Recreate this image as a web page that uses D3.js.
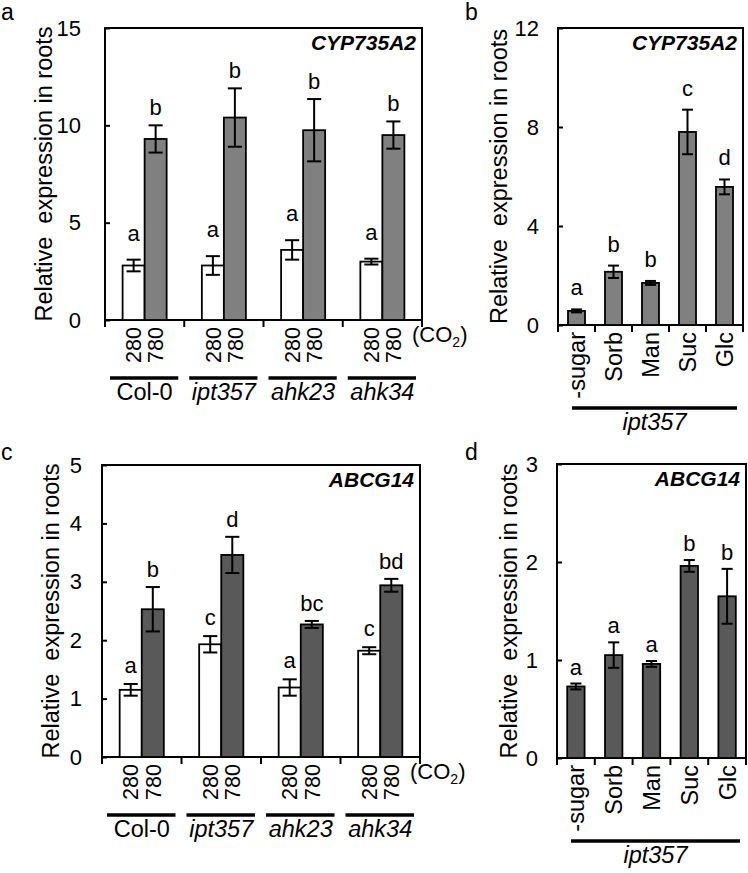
<!DOCTYPE html>
<meta charset="utf-8" />
<style>
  body { margin: 0; background: #fff; }
  svg text { font-family: "Liberation Sans", Arial, Helvetica, sans-serif; fill: #000; }
</style>
<svg width="748" height="873"></svg>
<script src="https://d3js.org/d3.v7.min.js"></script>
<script>
  // ---- data ----
  var genotypes = ['Col-0', 'ipt357', 'ahk23', 'ahk34'];
  var co2Levels = ['280', '780'];
  var sugars = ['-sugar', 'Sorb', 'Man', 'Suc', 'Glc'];

  // a: CYP735A2, CO2 treatments
  var cypCo2Mean = [[2.8, 9.3], [2.8, 10.4], [3.6, 9.75], [3.0, 9.5]];
  var cypCo2Err = [[0.3, 0.7], [0.48, 1.5], [0.5, 1.6], [0.15, 0.7]];
  var cypCo2Letters = [['a', 'b'], ['a', 'b'], ['a', 'b'], ['a', 'b']];
  var cypCo2Ticks = [0, 5, 10, 15];

  // b: CYP735A2, sugars
  var cypSugarMean = [0.57, 2.15, 1.7, 7.8, 5.58];
  var cypSugarErr = [0.06, 0.25, 0.08, 0.9, 0.3];
  var cypSugarLetters = ['a', 'b', 'b', 'c', 'd'];
  var cypSugarTicks = [0, 4, 8, 12];

  // c: ABCG14, CO2 treatments
  var abcCo2Mean = [[1.15, 2.53], [1.93, 3.46], [1.19, 2.27], [1.82, 2.94]];
  var abcCo2Err = [[0.1, 0.38], [0.14, 0.31], [0.14, 0.06], [0.06, 0.11]];
  var abcCo2Letters = [['a', 'b'], ['c', 'd'], ['a', 'bc'], ['c', 'bd']];
  var abcCo2Ticks = [0, 1, 2, 3, 4, 5];

  // d: ABCG14, sugars
  var abcSugarMean = [0.73, 1.05, 0.96, 1.96, 1.65];
  var abcSugarErr = [0.03, 0.13, 0.03, 0.06, 0.28];
  var abcSugarLetters = ['a', 'a', 'a', 'b', 'b'];
  var abcSugarTicks = [0, 1, 2, 3];

  var svg = d3.select('svg');
  var yTitle = 'Relative  expression in roots';

  // frame, y axis, y title, gene name, panel letter
  function frame(p, y, ticks) {
    var g = p.g;
    g.append('g')
      .attr('transform', 'translate(' + p.left + ',0)')
      .call(d3.axisLeft(y).tickValues(ticks).tickFormat(d3.format('d'))
        .tickSize(-5).tickPadding(p.tickPad).tickSizeOuter(0))
      .call(function (s) {
        s.select('.domain').remove();
        s.selectAll('line').attr('stroke', '#000').attr('stroke-width', 2);
        s.selectAll('text').style('font-size', '22px').attr('fill', '#000');
      });

    g.append('rect')
      .attr('x', p.left).attr('y', p.top)
      .attr('width', p.right - p.left).attr('height', p.bottom - p.top)
      .attr('fill', 'none').attr('stroke', '#000').attr('stroke-width', 2);

    g.append('text')
      .attr('transform', 'translate(' + p.titleX + ',' + (p.top + p.bottom) / 2 + ') rotate(-90)')
      .attr('text-anchor', 'middle')
      .style('white-space', 'pre')
      .style('font-size', '23.5px')
      .text(yTitle);

    g.append('text')
      .attr('x', p.right - 6).attr('y', p.top + 22)
      .attr('text-anchor', 'end')
      .style('font-size', '21px').style('font-weight', 'bold').style('font-style', 'italic')
      .text(p.gene);

    g.append('text')
      .attr('x', p.letterX).attr('y', p.letterY)
      .style('font-size', '23px')
      .text(p.panel);
  }

  function bottomTicks(g, xs, bottom) {
    g.selectAll(null).data(xs).enter().append('line')
      .attr('x1', function (d) { return d; }).attr('x2', function (d) { return d; })
      .attr('y1', bottom).attr('y2', bottom + 7)
      .attr('stroke', '#000').attr('stroke-width', 2);
  }

  function bar(g, cx, w, y, mean, err, letter, fill, gap) {
    g.append('rect')
      .attr('x', cx - w / 2).attr('y', y(mean))
      .attr('width', w).attr('height', y(0) - y(mean))
      .attr('fill', fill).attr('stroke', '#000').attr('stroke-width', 1.8);
    var cap = w * 0.32;
    var eb = g.append('g').attr('stroke', '#000').attr('stroke-width', 2);
    eb.append('line').attr('x1', cx).attr('x2', cx).attr('y1', y(mean + err)).attr('y2', y(mean - err));
    eb.append('line').attr('x1', cx - cap).attr('x2', cx + cap).attr('y1', y(mean + err)).attr('y2', y(mean + err));
    eb.append('line').attr('x1', cx - cap).attr('x2', cx + cap).attr('y1', y(mean - err)).attr('y2', y(mean - err));
    g.append('text')
      .attr('x', cx).attr('y', y(mean + err) - gap)
      .attr('text-anchor', 'middle')
      .style('font-size', '22px')
      .text(letter);
  }

  function rotLabel(g, cx, top, txt, size) {
    g.append('text')
      .attr('transform', 'translate(' + cx + ',' + (top + 7) + ') rotate(-90)')
      .attr('text-anchor', 'end')
      .attr('dy', '0.36em')
      .style('font-size', size)
      .text(txt);
  }

  function co2Panel(p, means, errs, letters, ticks) {
    p.g = svg.append('g');
    var y = d3.scaleLinear().domain([0, ticks[ticks.length - 1]]).range([p.bottom, p.top]);
    var x = d3.scaleBand().domain(genotypes).range([p.left, p.right]);
    var xi = d3.scaleBand().domain(co2Levels).range([0, x.bandwidth()]).paddingOuter(0.8);
    frame(p, y, ticks);
    bottomTicks(p.g, genotypes.map(function (d) { return x(d); }).concat([p.right]), p.bottom);

    genotypes.forEach(function (gt, i) {
      co2Levels.forEach(function (lv, j) {
        var cx = x(gt) + xi(lv) + xi.bandwidth() / 2;
        bar(p.g, cx, xi.bandwidth(), y, means[i][j], errs[i][j], letters[i][j],
            j === 0 ? '#fff' : p.fill, j === 0 ? p.gap0 : 10);
        rotLabel(p.g, cx, p.bottom, lv, '21.5px');
      });
      p.g.append('line')
        .attr('x1', x(gt) + 5).attr('x2', x(gt) + x.bandwidth() - 6)
        .attr('y1', p.bottom + 58).attr('y2', p.bottom + 58)
        .attr('stroke', '#000').attr('stroke-width', 3.5);
      p.g.append('text')
        .attr('x', x(gt) + x.bandwidth() / 2).attr('y', p.bottom + 80)
        .attr('text-anchor', 'middle')
        .style('font-size', '23.5px')
        .style('font-style', i === 0 ? 'normal' : 'italic')
        .text(gt);
    });

    var co2 = p.g.append('text')
      .attr('x', p.right - 10).attr('y', p.bottom + 22)
      .style('font-size', '22px');
    co2.append('tspan').text('(CO');
    co2.append('tspan').attr('dy', 5).style('font-size', '14px').text('2');
    co2.append('tspan').attr('dy', -5).text(')');
  }

  function sugarPanel(p, means, errs, letters, ticks) {
    p.g = svg.append('g');
    var y = d3.scaleLinear().domain([0, ticks[ticks.length - 1]]).range([p.bottom, p.top]);
    var x = d3.scaleBand().domain(sugars).range([p.left, p.right]).paddingInner(0.54).paddingOuter(0.27);
    frame(p, y, ticks);
    var step = x.step();
    bottomTicks(p.g, sugars.map(function (d) { return x(d) - step * 0.27; }).concat([p.right]), p.bottom);

    sugars.forEach(function (s, i) {
      var cx = x(s) + x.bandwidth() / 2;
      bar(p.g, cx, x.bandwidth(), y, means[i], errs[i], letters[i], p.fill, p.gap0);
      rotLabel(p.g, cx, p.bottom, s, '23.5px');
    });
    p.g.append('line')
      .attr('x1', p.left + 14).attr('x2', p.right - 6)
      .attr('y1', p.bottom + 83).attr('y2', p.bottom + 83)
      .attr('stroke', '#000').attr('stroke-width', 3.5);
    p.g.append('text')
      .attr('x', (p.left + 14 + p.right - 6) / 2).attr('y', p.bottom + 105)
      .attr('text-anchor', 'middle')
      .style('font-size', '23.5px').style('font-style', 'italic')
      .text('ipt357');
  }

  co2Panel({ left: 105, right: 422, top: 28, bottom: 320, tickPad: 24, titleX: 52, gap0: 19,
             gene: 'CYP735A2', panel: 'a', letterX: 1, letterY: 20, fill: '#808080' },
           cypCo2Mean, cypCo2Err, cypCo2Letters, cypCo2Ticks);

  sugarPanel({ left: 558, right: 743, top: 28, bottom: 325, tickPad: 19, titleX: 507, gap0: 14,
               gene: 'CYP735A2', panel: 'b', letterX: 465, letterY: 20, fill: '#808080' },
             cypSugarMean, cypSugarErr, cypSugarLetters, cypSugarTicks);

  co2Panel({ left: 102, right: 420, top: 465, bottom: 757, tickPad: 20, titleX: 59, gap0: 11,
             gene: 'ABCG14', panel: 'c', letterX: 1, letterY: 460, fill: '#595959' },
           abcCo2Mean, abcCo2Err, abcCo2Letters, abcCo2Ticks);

  sugarPanel({ left: 557, right: 746, top: 464, bottom: 758, tickPad: 19, titleX: 517, gap0: 9,
               gene: 'ABCG14', panel: 'd', letterX: 465, letterY: 460, fill: '#595959' },
             abcSugarMean, abcSugarErr, abcSugarLetters, abcSugarTicks);
</script>
